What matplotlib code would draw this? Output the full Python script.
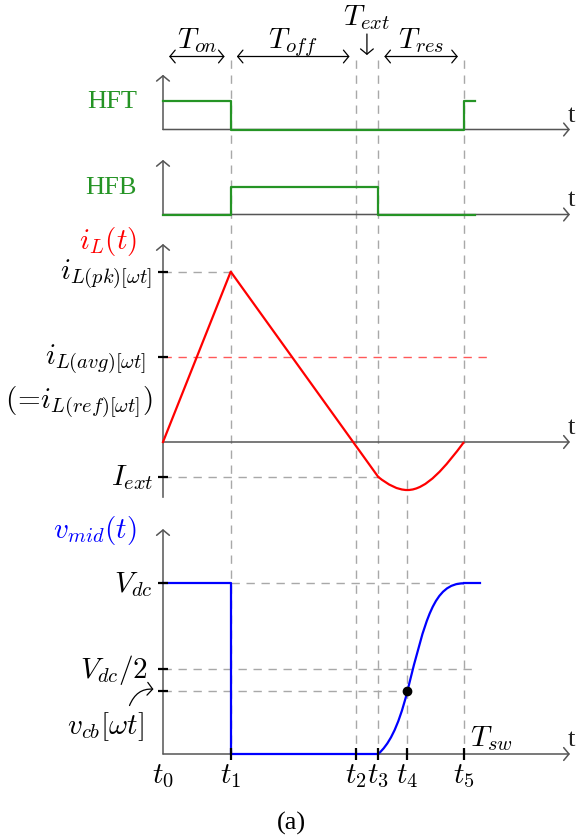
import matplotlib
matplotlib.use("Agg")
import matplotlib.pyplot as plt
from matplotlib.path import Path
from matplotlib.patches import PathPatch

plt.rcParams["mathtext.fontset"] = "cm"
plt.rcParams["lines.scale_dashes"] = False

# ─────────────────────────────────────────────
# Waveform data (time normalised to one switching period, t5 = Tsw = 1)
# ─────────────────────────────────────────────

T_NAMES = [r"$t_0$", r"$t_1$", r"$t_2$", r"$t_3$", r"$t_4$", r"$t_5$"]
T_INST = [0.0, 0.225, 0.640, 0.715, 0.812, 1.0]
t0, t1, t2, t3, t4, t5 = T_INST

T_GATE_END = 1.035      # gate traces and Vdc/2 guide stop here
T_VMID_END = 1.053
T_AVG_END = 1.091
T_AXIS_END = 1.352

# gate signals (step, 'post')
HFT_T = [t0, t1, t5, T_GATE_END]
HFT_V = [1, 0, 1, 1]
HFB_T = [t0, t1, t3, T_GATE_END]
HFB_V = [0, 1, 0, 0]

# inductor current, normalised to the peak
IL_T = [t0, t1, t3]
IL_V = [0.0, 1.0, -0.205]
IL_PK = 1.0
IL_AVG = 0.5
I_EXT = -0.205
IL_MIN = -0.282          # bottom of the resonant swing, at t4
IL_SLOPE_T3 = -1.41      # slope of the resonant part right after t3

# midpoint voltage, normalised to Vdc
VMID_T = [t0, t1, t3]
VMID_V = [1, 0, 0]
V_DC = 1.0
V_HALF = 0.5
V_CB = 0.369
V_SLOPE_T3 = 1.59
V_SLOPE_T4 = 7.05

# ─────────────────────────────────────────────
# Styling / layout
# ─────────────────────────────────────────────

W, H, DPI = 583, 837, 100
X0_PX, PX_PER_T = 163, 301
XLIM = (-X0_PX / PX_PER_T, (W - X0_PX) / PX_PER_T)

GREEN = "#259425"
AX_C = "#555555"
GUIDE_C = "#a8a8a8"
FS = 21                 # math labels
FS_RM = 19              # upright serif labels
SIG_LW = 1.6
DASH = (6, 4.8)
SERIF = ["Liberation Serif", "DejaVu Serif"]

ARROW = "->,head_length=0.38,head_width=0.46"

fig = plt.figure(figsize=(W / DPI, H / DPI), dpi=DPI)

# overlay in pixel rows, used for the guides spanning all panels
ov = fig.add_axes([0, 0, 1, 1])
ov.set_xlim(XLIM)
ov.set_ylim(H, 0)
ov.axis("off")


def panel(top, bottom, base, scale):
    """Axes spanning the full width; `base` is the zero line row, `scale` px per unit."""
    ax = fig.add_axes([0, 1 - bottom / H, 1, (bottom - top) / H])
    ax.set_xlim(XLIM)
    ax.set_ylim((base - bottom) / scale, (base - top) / scale)
    ax.axis("off")
    return ax


def axis_arrows(ax, ytop, ybot=0.0):
    kw = dict(arrowstyle=ARROW, color=AX_C, lw=1.1, shrinkA=0, shrinkB=0,
              mutation_scale=10)
    ax.annotate("", xy=(0, ytop), xytext=(0, ybot), arrowprops=kw)
    ax.annotate("", xy=(T_AXIS_END, 0), xytext=(0, 0), arrowprops=kw)
    ax.annotate("t", xy=(T_AXIS_END, 0), xytext=(1, 9), textcoords="offset pixels",
                ha="center", va="baseline", fontsize=FS_RM, family=SERIF,
                color="#222222")


def guide(ax, xs, ys, color=GUIDE_C, alpha=1.0):
    ax.plot(xs, ys, color=color, lw=1.0, dashes=DASH, alpha=alpha, zorder=1)


def ytick(ax, v, label, dx, dy=0):
    ax.plot(0, v, marker="_", ms=7.5, mew=1.6, color="k", zorder=5)
    if label:
        ax.annotate(label, (0, v), xytext=(-dx, dy), textcoords="offset pixels",
                    ha="right", va="center", fontsize=FS)


def bezier(ax, pts, **kw):
    codes = [Path.MOVETO] + [Path.CURVE4] * (len(pts) - 1)
    ax.add_patch(PathPatch(Path(pts, codes), fill=False, capstyle="butt", **kw))


V_BASE_PX = 755

# ── vertical guides ──────────────────────────────────────────────
ov.vlines([t1, t2, t3, t5], 61, V_BASE_PX, color=GUIDE_C, lw=1.0,
          linestyles=[(0, DASH)])
ov.vlines([t4], 481, V_BASE_PX, color=GUIDE_C, lw=1.0, linestyles=[(0, DASH)])

# ── interval arrows on top ───────────────────────────────────────
span_kw = dict(arrowstyle="<->,head_length=0.38,head_width=0.46", color="k",
               lw=0.9, shrinkA=4.4, shrinkB=4.4, mutation_scale=10)
for (a, b), lab in [((t0, t1), r"$T_{on}$"), ((t1, t2), r"$T_{off}$"),
                    ((t3, t5), r"$T_{res}$")]:
    ov.annotate("", xy=(b, 57.5), xytext=(a, 57.5), arrowprops=span_kw)
    ov.text((a + b) / 2, 48, lab, ha="center", va="baseline", fontsize=FS)

t_ext_mid = (t2 + t3) / 2
ov.annotate("", xy=(t_ext_mid, 56), xytext=(t_ext_mid, 35),
            arrowprops=dict(arrowstyle=ARROW, color="k", lw=0.9, shrinkA=0,
                            shrinkB=0, mutation_scale=10))
ov.text(t_ext_mid, 25, r"$T_{ext}$", ha="center", va="baseline", fontsize=FS)

# ── HFT ──────────────────────────────────────────────────────────
ax_hft = panel(0, 145, 130.5, 28.2)
axis_arrows(ax_hft, 1.94)
ax_hft.step(HFT_T, HFT_V, where="post", color=GREEN, lw=SIG_LW, zorder=4)
ax_hft.annotate("HFT", (0, 1), xytext=(-26, 0), textcoords="offset pixels",
                ha="right", va="center", fontsize=FS_RM, family=SERIF, color=GREEN)

# ── HFB ──────────────────────────────────────────────────────────
ax_hfb = panel(145, 230, 215.5, 28.0)
axis_arrows(ax_hfb, 1.95)
ax_hfb.step(HFB_T, HFB_V, where="post", color=GREEN, lw=SIG_LW, zorder=4)
ax_hfb.annotate("HFB", (0, 1), xytext=(-26, 0), textcoords="offset pixels",
                ha="right", va="center", fontsize=FS_RM, family=SERIF, color=GREEN)

# ── inductor current ─────────────────────────────────────────────
ax_il = panel(230, 505, 443, 170.3)
axis_arrows(ax_il, 1.163, ybot=-0.325)
ax_il.annotate(r"$i_L(t)$", (0, 1.163), xytext=(-26, 3), textcoords="offset pixels",
               ha="right", va="center", fontsize=FS, color="red")

guide(ax_il, [0, t1], [IL_PK, IL_PK])
guide(ax_il, [0, t3], [I_EXT, I_EXT])
guide(ax_il, [0, T_AVG_END], [IL_AVG, IL_AVG], color="red", alpha=0.65)

ytick(ax_il, IL_PK, r"$i_{L(pk)[\omega t]}$", 11, -2)
ytick(ax_il, IL_AVG, r"$i_{L(avg)[\omega t]}$", 17, -2)
ax_il.annotate(r"$(\!=\!i_{L(ref)[\omega t]})$", (0, IL_AVG), xytext=(-10, -45),
               textcoords="offset pixels", ha="right", va="center", fontsize=FS)
ytick(ax_il, I_EXT, r"$I_{ext}$", 9)

ax_il.plot(IL_T, IL_V, color="red", lw=SIG_LW, zorder=4, solid_joinstyle="round")
h1 = (t4 - t3) / 3
d2 = t5 - t4
bezier(ax_il, [(t3, I_EXT), (t3 + h1, I_EXT + IL_SLOPE_T3 * h1),
               (t4 - h1, IL_MIN), (t4, IL_MIN),
               (t4 + 0.34 * d2, IL_MIN), (t5 - 0.326 * d2, 0.512 * IL_MIN),
               (t5, 0.0)], color="red", lw=SIG_LW, zorder=4)

# ── midpoint voltage ─────────────────────────────────────────────
ax_v = panel(505, 837, V_BASE_PX, 170.7)
axis_arrows(ax_v, 1.318)
ax_v.annotate(r"$v_{mid}(t)$", (0, 1.318), xytext=(-26, 0), textcoords="offset pixels",
              ha="right", va="center", fontsize=FS, color="blue")

guide(ax_v, [t1, t5], [V_DC, V_DC])
guide(ax_v, [0, T_GATE_END], [V_HALF, V_HALF])
guide(ax_v, [0, t4], [V_CB, V_CB])

ytick(ax_v, V_DC, r"$V_{dc}$", 11)
ytick(ax_v, V_HALF, r"$V_{dc}/2$", 15)
ytick(ax_v, V_CB, None, 0)
ax_v.annotate(r"$v_{cb}[\omega t]$", (0, V_CB), xytext=(-58, -35),
              textcoords="offset pixels", ha="center", va="center", fontsize=FS,
              arrowprops=dict(arrowstyle=ARROW, color="k", lw=0.9, mutation_scale=10,
                              connectionstyle="arc3,rad=-0.5", relpos=(0.8, 1.0),
                              shrinkA=1, shrinkB=7))

ax_v.step(VMID_T, VMID_V, where="post", color="blue", lw=SIG_LW, zorder=4)
hA = (t4 - t3) / 3
hB = 0.06
bezier(ax_v, [(t3, 0.0), (t3 + hA, V_SLOPE_T3 * hA),
              (t4 - hA, V_CB - V_SLOPE_T4 * hA), (t4, V_CB),
              (t4 + hB, V_CB + V_SLOPE_T4 * hB), (t5 - 0.1, V_DC), (t5, V_DC)],
       color="blue", lw=SIG_LW, zorder=4)
ax_v.plot([t5, T_VMID_END], [V_DC, V_DC], color="blue", lw=SIG_LW, zorder=4)
ax_v.plot(t4, V_CB, "o", color="k", ms=6, zorder=6)

# time ticks and labels
for t, name in zip(T_INST, T_NAMES):
    if t > 0:
        ax_v.plot(t, 0, marker="|", ms=9, mew=1.6, color="k", zorder=5)
    ax_v.annotate(name, (t, 0), xytext=(0, -28), textcoords="offset pixels",
                  ha="center", va="baseline", fontsize=FS)
ax_v.annotate(r"$T_{sw}$", (t5, 0), xytext=(6, 9), textcoords="offset pixels",
              ha="left", va="baseline", fontsize=FS)

fig.text(291.5 / W, 1 - 823 / H, "(a)", ha="center", va="center", fontsize=19,
         family=SERIF)

fig.savefig("out.png", dpi=DPI)
